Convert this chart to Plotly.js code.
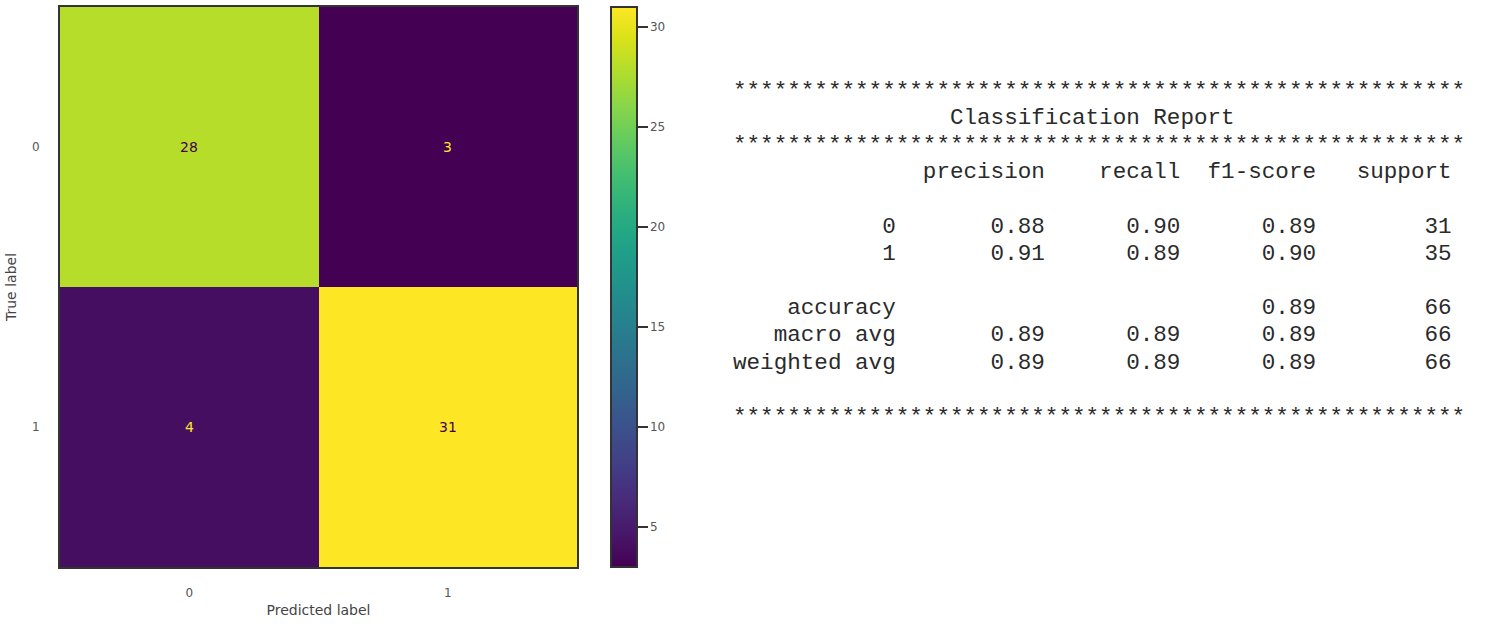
<!DOCTYPE html>
<html>
<head>
<meta charset="utf-8">
<script src="https://cdn.plot.ly/plotly-3.0.1.min.js"></script>
<style>html,body{margin:0;padding:0;background:#fff;}#chart{width:1485px;height:628px;}</style>
</head>
<body>
<div id="chart"></div>
<script>
// ---- Confusion matrix data ----
const classLabels = ['0', '1'];
const cmRow0 = [28, 3];
const cmRow1 = [4, 31];
const colorbarTicks = [5, 10, 15, 20, 25, 30];

// ---- Classification report data ----
const reportClasses = ['0', '1'];
const precision = [0.88, 0.91];
const recall = [0.90, 0.89];
const f1score = [0.89, 0.90];
const support = [31, 35];
const accuracy = 0.89;
const totalSupport = 66;
const macroAvg = [0.89, 0.89, 0.89];
const weightedAvg = [0.89, 0.89, 0.89];

const z = [cmRow0, cmRow1];
const zmin = Math.min(...cmRow0, ...cmRow1);
const zmax = Math.max(...cmRow0, ...cmRow1);

// layout geometry (pixels)
const W = 1485, H = 628;
const mL = 60, mR = 0, mT = 7, mB = 61;
const plotW = W - mL - mR, plotH = H - mT - mB;
const heatRight = 577;

const heat = {
  type: 'heatmap',
  z: z,
  x: [0, 1],
  y: [0, 1],
  colorscale: 'Viridis',
  zmin: zmin, zmax: zmax,
  hoverinfo: 'z',
  colorbar: {
    x: (611 - mL) / plotW, xanchor: 'left', xpad: 0, ypad: 0,
    y: 0.5, yanchor: 'middle', len: 1, lenmode: 'fraction',
    thickness: 26,
    outlinewidth: 2, outlinecolor: '#333',
    ticks: 'outside', ticklen: 10, tickwidth: 2, tickcolor: '#333',
    tickvals: colorbarTicks, tickprefix: '\u00A0\u00A0',
    tickfont: {family: 'DejaVu Sans', size: 12, color: '#555'}
  }
};

// matplotlib-style annotation colours: dark text on bright cells, bright on dark
const viridisLow = '#440154', viridisHigh = '#fde725';
const annotations = [];
const thresh = (zmin + zmax) / 2;
z.forEach((row, i) => row.forEach((v, j) => {
  annotations.push({
    x: j, y: i, xref: 'x', yref: 'y', text: String(v), showarrow: false,
    font: {family: 'DejaVu Sans', size: 14, color: v > thresh ? viridisLow : viridisHigh}
  });
}));

// ---- Build classification report text ----
const width = 12;
const padL = (s, n) => { s = String(s); while (s.length < n) s = ' ' + s; return s; };
const f2 = v => v.toFixed(2);
const stars = '*'.repeat(54);
const lines = [];
lines.push(stars);
lines.push(' '.repeat(16) + 'Classification Report');
lines.push(stars);
lines.push(padL('', width) + ' ' + [' precision', '    recall', '  f1-score', '   support'].join(''));
lines.push('');
reportClasses.forEach((c, i) => {
  lines.push(padL(c, width) + ' ' + ' ' + padL(f2(precision[i]), 9) + ' ' + padL(f2(recall[i]), 9) + ' ' + padL(f2(f1score[i]), 9) + ' ' + padL(support[i], 9));
});
lines.push('');
lines.push(padL('accuracy', width) + ' ' + ' ' + padL('', 9) + ' ' + padL('', 9) + ' ' + padL(f2(accuracy), 9) + ' ' + padL(totalSupport, 9));
lines.push(padL('macro avg', width) + ' ' + ' ' + macroAvg.map(v => padL(f2(v), 9)).join(' ') + ' ' + padL(totalSupport, 9));
lines.push(padL('weighted avg', width) + ' ' + ' ' + weightedAvg.map(v => padL(f2(v), 9)).join(' ') + ' ' + padL(totalSupport, 9));
lines.push('');
lines.push(stars);

const textX = 731, textY0 = 90.5, lineH = 27.2;
lines.forEach((ln, k) => {
  if (!ln) return;
  annotations.push({
    xref: 'paper', yref: 'paper',
    x: (textX - mL) / plotW, xanchor: 'left',
    y: (H - mB - (textY0 + k * lineH)) / plotH, yanchor: 'middle',
    text: ln.replace(/ /g, '\u00A0'),
    showarrow: false, align: 'left',
    font: {family: 'Liberation Mono, monospace', size: 22.6, color: '#2a2a2a'}
  });
});

const layout = {
  width: W, height: H,
  margin: {l: mL, r: mR, t: mT, b: mB, autoexpand: false},
  paper_bgcolor: '#fff', plot_bgcolor: '#fff',
  font: {family: 'DejaVu Sans', color: '#444'},
  xaxis: {
    domain: [0, (heatRight - mL) / plotW],
    tickvals: [0, 1], ticktext: classLabels,
    showline: true, mirror: true, linecolor: '#333', linewidth: 2,
    showgrid: false, zeroline: false, ticks: '',
    ticklabelstandoff: 14,
    tickfont: {size: 12, color: '#555'},
    title: {text: 'Predicted label', font: {size: 14, color: '#444'}, standoff: 6},
    automargin: false
  },
  yaxis: {
    tickvals: [0, 1], ticktext: classLabels, autorange: 'reversed',
    showline: true, mirror: true, linecolor: '#333', linewidth: 2,
    showgrid: false, zeroline: false, ticks: '',
    ticklabelstandoff: 16,
    tickfont: {size: 12, color: '#555'},
    title: {text: 'True label', font: {size: 14, color: '#444'}, standoff: 12},
    automargin: false
  },
  annotations: annotations,
  showlegend: false
};

Plotly.newPlot('chart', [heat], layout, {displayModeBar: false, staticPlot: true});
</script>
</body>
</html>
